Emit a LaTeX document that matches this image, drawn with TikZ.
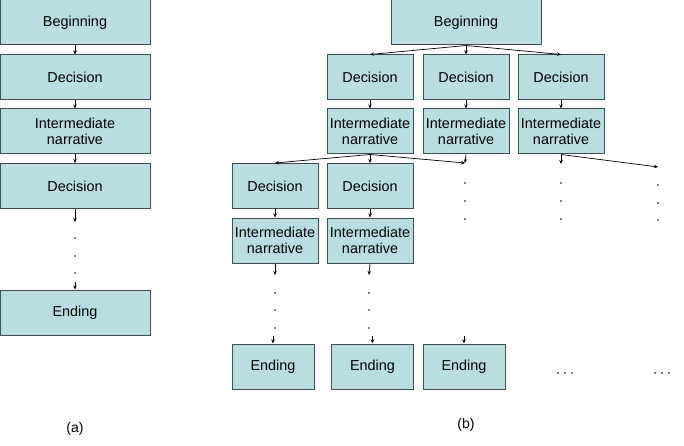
\documentclass[tikz,border=0pt]{standalone}
\usepackage{fontspec}
\setmainfont{Liberation Sans}
\usetikzlibrary{arrows.meta}
\definecolor{boxfill}{RGB}{185,221,224}
\definecolor{boxline}{RGB}{64,78,80}
\tikzset{every path/.style={line width=0.7pt},
  box/.style={draw=boxline,fill=boxfill,line width=1pt,inner sep=0pt,align=center,
    minimum height=45pt,font=\fontsize{14.4}{16}\selectfont},
  wide/.style={box,minimum width=150pt},
  narrow/.style={box,minimum width=86pt},
  endbox/.style={box,minimum width=82pt},
  arr/.style={-{Stealth[length=4pt,width=3.5pt]}},
  dot/.style={fill=black}}

\begin{document}
\begin{tikzpicture}[x=1pt,y=-1pt]
     \useasboundingbox (0,0) rectangle (684,446);
     % (a) one path
     \node[wide] (a1) at (75,22.5)  {Beginning};
     \node[wide] (a2) at (75,77.5)  {Decision};
     \node[wide] (a3) at (75,131.5) {Intermediate\\narrative};
     \node[wide] (a4) at (75,186)   {Decision};
     \node[wide] (a5) at (75,312.5) {Ending};
     \coordinate (a4x) at (75,222);
     \coordinate (a5x) at (75,282);
     \draw[arr] (a1) -- (a2);
     \draw[arr] (a2) -- (a3);
     \draw[arr] (a3) -- (a4);
     \draw[arr] (a4) -- (a4x);
     \draw[arr] (a5x) -- (a5);
     \foreach \y in {238,256,273} \fill[dot] (75,\y) circle (0.9);
     \node[font=\fontsize{14}{16}\selectfont] (la) at (75,429) {(a)};
     % (b) tree
     \node[wide] (b0) at (466,22.5) {Beginning};
     \node[narrow] (d1) at (370,77.5) {Decision};
     \node[narrow] (d2) at (466,77.5) {Decision};
     \node[narrow] (d3) at (561,77.5) {Decision};
     \node[narrow] (n1) at (370,131.5) {Intermediate\\narrative};
     \node[narrow] (n2) at (466,131.5) {Intermediate\\narrative};
     \node[narrow] (n3) at (561,131.5) {Intermediate\\narrative};
     \node[narrow] (d4) at (275,186) {Decision};
     \node[narrow] (d5) at (370,186) {Decision};
     \node[narrow] (n4) at (275,240.5) {Intermediate\\narrative};
     \node[narrow] (n5) at (370,240.5) {Intermediate\\narrative};
     \node[endbox] (e1) at (273,366.5) {Ending};
     \node[endbox] (e2) at (372.5,366.5) {Ending};
     \node[endbox] (e3) at (464,366.5) {Ending};
     \coordinate (m2) at (465,163);
     \coordinate (m3) at (561,164);
     \coordinate (m4) at (658,167);
     \coordinate (p4) at (275,275);
     \coordinate (q4) at (273,336);
     \coordinate (p5) at (369,275);
     \coordinate (q5) at (372.5,336);
     \coordinate (q6) at (464,336);
     \draw[arr] (b0.south) -- (d1.north);
     \draw[arr] (b0.south) -- (d2.north);
     \draw[arr] (b0.south) -- (d3.north);
     \foreach \i in {1,2,3} \draw[arr] (d\i) -- (n\i);
     \draw[arr] (n1.south) -- (d4.north);
     \draw[arr] (n1.south) -- (d5.north);
     \draw[arr] (n1.south) -- (m2);
     \draw[arr] (n2.south) -- (m2);
     \draw[arr] (n3.south) -- (m3);
     \draw[arr] (n3.south) -- (m4);
     \draw[arr] (d4) -- (n4);
     \draw[arr] (d5) -- (n5);
     \draw[arr] (n4.south) -- (p4);
     \draw[arr] (n5.south) -- (p5);
     \draw[arr] (q4) -- (e1);
     \draw[arr] (q5) -- (e2);
     \draw[arr] (q6) -- (e3);
     \foreach \x/\y in {465/183,465/201,465/219,561/183,561/201,561/219,658/185,658/203,658/220,
                        275/293,275/310,275/328,369/293,369/310,369/328}
       \fill[dot] (\x,\y) circle (0.9);
     \foreach \x in {558,565,572,655,662,669} \fill[dot] (\x,373) circle (0.9);
     \node[font=\fontsize{14}{16}\selectfont] (lb) at (466,425) {(b)};
\end{tikzpicture}
\end{document}
